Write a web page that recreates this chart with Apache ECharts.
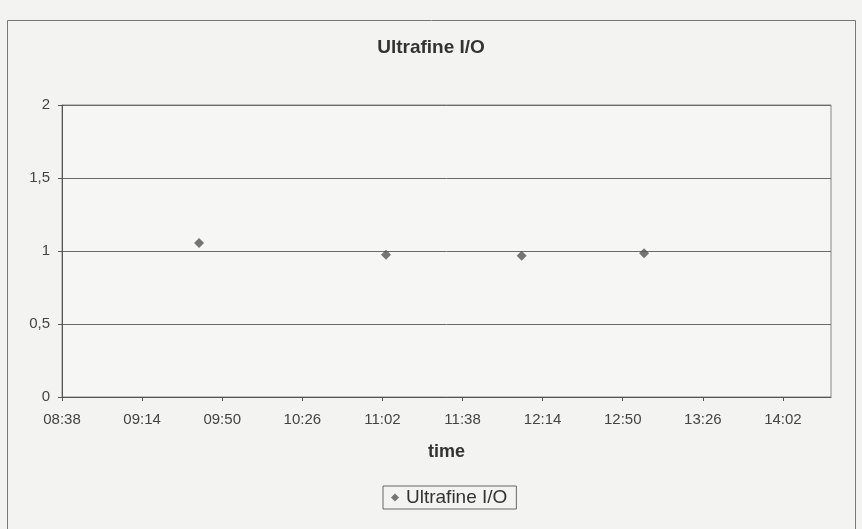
<!DOCTYPE html>
<html>
<head>
<meta charset="utf-8">
<title>Ultrafine I/O</title>
<script src="https://cdn.jsdelivr.net/npm/echarts@6/dist/echarts.min.js"></script>
<style>
  html, body { margin: 0; padding: 0; background: #f3f3f1; }
  #chart { width: 862px; height: 529px; }
</style>
</head>
<body>
<div id="chart"></div>
<script>
// measurement times (hh:mm) and ratio values
var times = ['09:40', '11:04', '12:05', '13:00']
var ratios = [1.055, 0.975, 0.968, 0.984]

// x axis in minutes since midnight: 08:38.4 to 14:24, step 36 min (Excel date axis 0.36..0.6 day)
var xMin = 518.4
var xMax = 864
var xStep = 36
var yTicks = [0, 0.5, 1, 1.5, 2]

function toMinutes(t) {
  var p = t.split(':')
  return parseInt(p[0], 10) * 60 + parseInt(p[1], 10)
}
function fmtTime(v) {
  var m = Math.floor(v + 1e-6)
  var h = Math.floor(m / 60)
  var mm = m % 60
  return (h < 10 ? '0' : '') + h + ':' + (mm < 10 ? '0' : '') + mm
}

var points = times.map(function(t, i) { return [toMinutes(t), ratios[i]] })

var chart = echarts.init(document.getElementById('chart'))
chart.setOption({
  backgroundColor: '#f3f3f1',
  animation: false,
  textStyle: { fontFamily: 'Liberation Sans, Arial, sans-serif' },
  title: {
    text: 'Ultrafine I/O',
    left: 'center',
    top: 33,
    textStyle: { fontSize: 19, fontWeight: 'bold', color: '#333' }
  },
  grid: {
    left: 62,
    right: 31,
    top: 105,
    bottom: 132,
    show: true,
    backgroundColor: '#f6f6f4',
    borderColor: '#888',
    borderWidth: 1
  },
  legend: {
    data: ['Ultrafine I/O'],
    left: 383,
    top: 486,
    padding: [2, 9, 2, 8],
    borderColor: '#666',
    borderWidth: 1,
    icon: 'diamond',
    itemWidth: 8,
    itemHeight: 8,
    itemGap: 4,
    textStyle: { fontSize: 19, color: '#333', padding: [0, 0, 0, 2] }
  },
  xAxis: {
    type: 'value',
    min: xMin,
    max: xMax,
    interval: xStep,
    name: 'time',
    nameLocation: 'middle',
    nameGap: 46,
    nameTextStyle: { fontSize: 18, fontWeight: 'bold', color: '#333' },
    axisLine: { lineStyle: { color: '#555' } },
    axisTick: { show: true, length: 4, lineStyle: { color: '#555' } },
    splitLine: { show: false },
    axisLabel: {
      fontSize: 15,
      color: '#444',
      margin: 15,
      showMaxLabel: false,
      formatter: function(v) {
        return v >= xMax - 1e-6 ? '' : fmtTime(v)
      }
    }
  },
  yAxis: {
    type: 'value',
    min: yTicks[0],
    max: yTicks[yTicks.length - 1],
    interval: 0.5,
    axisLine: { show: true, lineStyle: { color: '#555' } },
    axisTick: { show: true, length: 4, lineStyle: { color: '#555' } },
    splitLine: { lineStyle: { color: '#6a6a6a', width: 1 } },
    axisLabel: {
      fontSize: 15,
      color: '#444',
      margin: 12,
      formatter: function(v) { return String(v).replace('.', ',') }
    }
  },
  series: [{
    name: 'Ultrafine I/O',
    type: 'scatter',
    symbol: 'diamond',
    symbolSize: 10,
    itemStyle: { color: '#555' },
    data: points
  }],
  graphic: [{
    type: 'rect',
    shape: { x: 7.5, y: 20.5, width: 848, height: 530 },
    style: { fill: 'none', stroke: '#777', lineWidth: 1 },
    silent: true
  }]
})
</script>
</body>
</html>
